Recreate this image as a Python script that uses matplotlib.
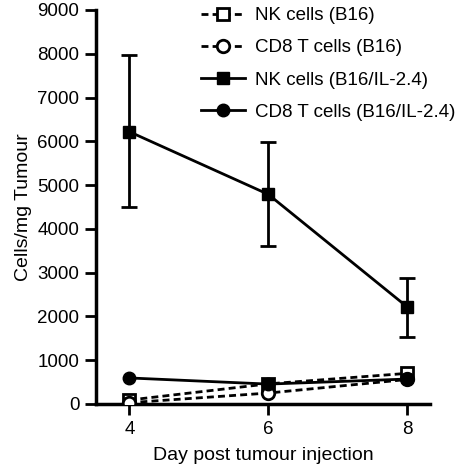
import numpy as np
import matplotlib
matplotlib.use("Agg")
import matplotlib.pyplot as plt

plt.rcParams["font.family"] = ["Liberation Sans", "DejaVu Sans"]

days = [4, 6, 8]
nk_b16 = [90, 460, 700]
cd8_b16 = [30, 250, 560]
nk_il = [6220, 4790, 2220]
nk_il_err_low = [1710, 1190, 690]
nk_il_err_high = [1750, 1190, 650]
cd8_il = [595, 455, 570]
names = ["NK cells (B16)", "CD8 T cells (B16)", "NK cells (B16/IL-2.4)", "CD8 T cells (B16/IL-2.4)"]

fig = plt.figure(figsize=(4.64, 4.67), dpi=100)
ax = fig.add_axes([96 / 464, 63 / 467, (430 - 96) / 464, (404 - 10) / 467])
fs = 13.5

lw = 2
ms = 9
dash = (0, (2.5, 1.5))
ax.plot(days, nk_b16, ls=dash, lw=lw, color="black", marker="s", ms=ms,
        mfc="white", mec="black", mew=2, label=names[0], zorder=3)
ax.plot(days, cd8_b16, ls=dash, lw=lw, color="black", marker="o", ms=ms,
        mfc="white", mec="black", mew=2, label=names[1], zorder=3)
ax.errorbar(days, nk_il, yerr=[nk_il_err_low, nk_il_err_high], ls="none", color="black",
            capsize=6, capthick=2, elinewidth=2, zorder=4)
ax.plot(days, nk_il, lw=lw, color="black", marker="s", ms=ms, label=names[2], zorder=4)
ax.plot(days, cd8_il, lw=lw, color="black", marker="o", ms=ms, label=names[3], zorder=4)

ax.set_xlim(3.52, 8.33)
ax.set_ylim(0, 9000)
ax.set_xticks(days)
ax.set_yticks(np.arange(0, 9001, 1000))
for s in ["top", "right"]:
    ax.spines[s].set_visible(False)
for s in ["left", "bottom"]:
    ax.spines[s].set_linewidth(2.5)
ax.tick_params(axis="both", width=2, length=8, labelsize=fs, pad=4)
ax.set_xlabel("Day post tumour injection", fontsize=14, labelpad=7)
ax.set_ylabel("Cells/mg Tumour", fontsize=14, labelpad=4)

ax.legend(loc="upper left", bbox_to_anchor=(0.265, 1.05), frameon=False, fontsize=13.5,
          handlelength=2.35, labelspacing=0.8, handletextpad=0.5)

fig.savefig("out.png", dpi=100)
